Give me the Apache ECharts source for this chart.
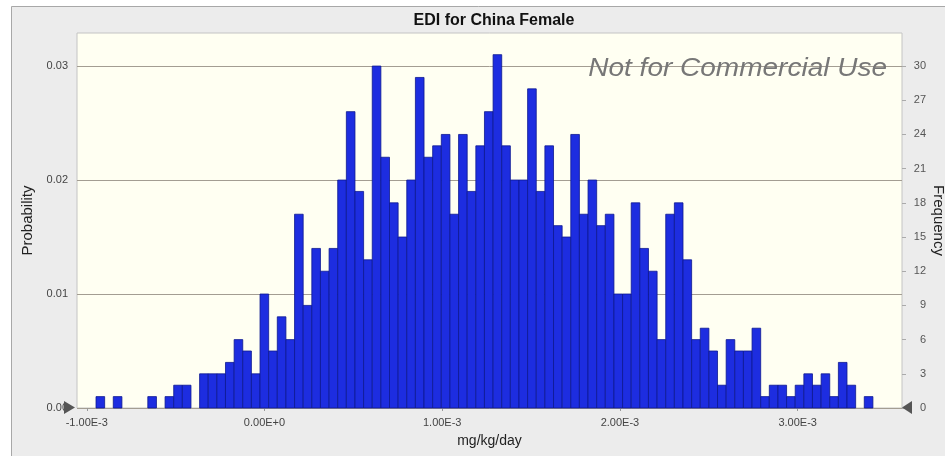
<!DOCTYPE html>
<html>
<head>
<meta charset="utf-8">
<title>EDI for China Female</title>
<script src="https://cdn.jsdelivr.net/npm/echarts@6/dist/echarts.min.js"></script>
<style>
html,body{margin:0;padding:0;background:#fff;}
#chart{width:945px;height:456px;}
</style>
</head>
<body>
<div id="chart"></div>
<script>
// histogram of 1000 trials, mg/kg/day
const trials = 1000;
const binStart = -0.948e-3;
const binWidth = 0.04857e-3;
const frequency = [
  1,0,1,0,0,0,1,0,1,2,
  2,0,3,3,3,4,6,5,3,10,
  5,8,6,17,9,14,12,14,20,26,
  19,13,30,22,18,15,20,29,22,23,
  24,17,24,19,23,26,31,23,20,20,
  28,19,23,16,15,24,17,20,16,17,
  10,10,18,14,12,6,17,18,13,6,
  7,5,2,6,5,5,7,1,2,2,
  1,2,3,2,3,1,4,2,0,1
];
const xTicks = [-1e-3, 0, 1e-3, 2e-3, 3e-3];
const probTicks = [0, 0.01, 0.02, 0.03];
const freqTicks = [0,3,6,9,12,15,18,21,24,27,30];

const FONT = '"Liberation Sans", Arial, sans-serif';

// bins -> [start, end, count]
let bins = [];
frequency.forEach(function(f, i){
  if (f > 0) bins.push([binStart + i*binWidth, binStart + (i+1)*binWidth, f]);
});

let chart = echarts.init(document.getElementById('chart'));
let option = {
  backgroundColor: '#ffffff',
  animation: false,
  title: {
    text: 'EDI for China Female',
    left: 489, top: 8, textAlign: 'center',
    textStyle: {fontSize: 16, fontWeight: 'bold', color: '#111', fontFamily: FONT}
  },
  grid: {
    left: 77, right: 43, top: 33, bottom: 48,
    outerBoundsMode: 'none', containLabel: false,
    show: true, backgroundColor: '#fffff2', borderColor: '#c4c4c4', borderWidth: 1
  },
  xAxis: {
    type: 'value',
    min: -1.055e-3, max: 3.587e-3,
    name: 'mg/kg/day', nameLocation: 'middle', nameGap: 26,
    nameTextStyle: {fontSize: 14, color: '#222', fontFamily: FONT},
    axisLine: {show: false},
    splitLine: {show: false},
    axisTick: {show: true, customValues: xTicks, length: 3, lineStyle: {color: '#999'}},
    axisLabel: {
      customValues: xTicks, margin: 9, fontSize: 11, color: '#444', fontFamily: FONT,
      formatter: function(v){
        if (Math.abs(v) < 1e-12) return '0.00E+0';
        return (v / 1e-3).toFixed(2) + 'E-3';
      }
    }
  },
  yAxis: [
    {
      type: 'value', min: 0, max: 32.9 / trials, interval: 0.01,
      name: 'Probability', nameLocation: 'middle', nameGap: 42,
      nameTextStyle: {fontSize: 15, color: '#222', fontFamily: FONT},
      axisLine: {show: false},
      axisTick: {show: true, customValues: probTicks, length: 5, lineStyle: {color: '#a39d92'}},
      axisLabel: {customValues: probTicks, margin: 9, fontSize: 11, color: '#444', fontFamily: FONT,
        formatter: function(v){ return v.toFixed(2); }},
      splitLine: {show: true, lineStyle: {color: '#a39d92', width: 1}}
    },
    {
      type: 'value', min: 0, max: 32.9, interval: 3, position: 'right',
      name: 'Frequency', nameLocation: 'middle', nameGap: 29, nameRotate: -90,
      nameMoveOverlap: false,
      nameTextStyle: {fontSize: 15, color: '#222', fontFamily: FONT},
      axisLine: {show: false},
      axisTick: {show: true, customValues: freqTicks, length: 4, lineStyle: {color: '#aaa'}},
      axisLabel: {customValues: freqTicks, align: 'right', margin: 24, fontSize: 11, color: '#555', fontFamily: FONT},
      splitLine: {show: false}
    }
  ],
  graphic: [
    {
      type: 'rect', z: -10, silent: true,
      shape: {x: 11.5, y: 6.5, width: 940, height: 460},
      style: {fill: '#ececec', stroke: '#a8a8a8', lineWidth: 1}
    },
    {
      type: 'text', z: 50, silent: true,
      x: 887, y: 69, scaleX: 1.12,
      style: {text: 'Not for Commercial Use', textAlign: 'right', textVerticalAlign: 'middle',
        font: 'italic 25px "Liberation Sans", Arial, sans-serif', fill: '#777'}
    },
    {
      type: 'polygon', z: 50, silent: true,
      shape: {points: [[64, 401], [64, 414], [75, 407.5]]},
      style: {fill: '#555'}
    },
    {
      type: 'polygon', z: 50, silent: true,
      shape: {points: [[912, 401], [912, 414], [902, 407.5]]},
      style: {fill: '#555'}
    }
  ],
  series: [
    {
      type: 'custom',
      xAxisIndex: 0, yAxisIndex: 1,
      data: bins,
      encode: {x: [0, 1], y: 2},
      renderItem: function(params, api){
        let p0 = api.coord([api.value(0), 0]);
        let p1 = api.coord([api.value(1), api.value(2)]);
        return {
          type: 'rect',
          shape: {x: p0[0], y: p1[1], width: p1[0] - p0[0], height: p0[1] - p1[1]},
          style: {fill: '#1d2de0', stroke: '#0c1890', lineWidth: 0.8}
        };
      }
    }
  ]
};
chart.setOption(option);
</script>
</body>
</html>
